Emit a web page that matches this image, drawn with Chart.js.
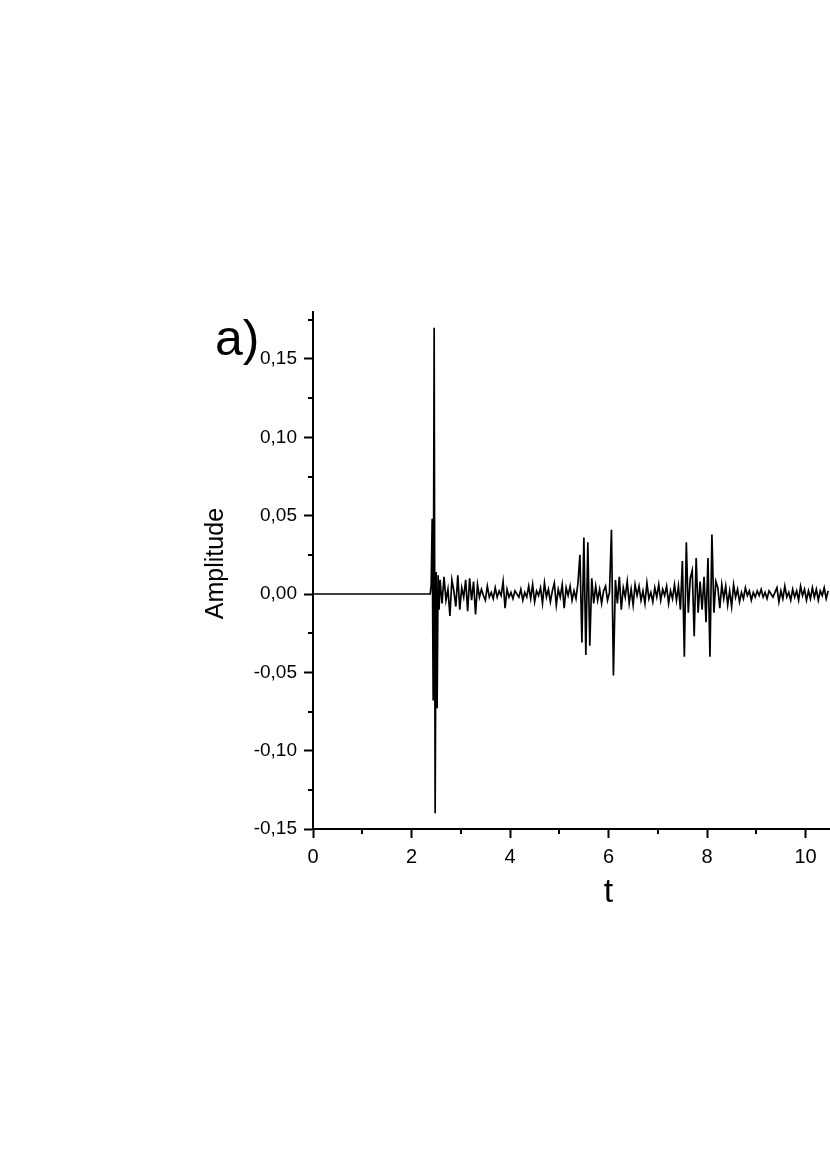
<!DOCTYPE html>
<html>
<head>
<meta charset="utf-8">
<script src="https://cdn.jsdelivr.net/npm/chart.js@4/dist/chart.umd.min.js"></script>
<style>
    html, body { margin: 0; padding: 0; background: #fff; overflow: hidden; }
    #wrap { position: absolute; left: 0; top: 0; width: 940px; height: 1174px; }
    #panel-label {
        position: absolute; left: 215px; top: 313px;
        font-family: 'Liberation Sans', Arial, sans-serif;
        font-size: 50px; line-height: 50px; color: #000;
    }
</style>
</head>
<body>
<div id="wrap"><canvas id="signalChart" width="940" height="1174"></canvas></div>
<div id="panel-label">a)</div>
<script>
/* data */

// quiet part + first arrival (t, amplitude)
const arrivalTimes = [0, 2.38, 2.40, 2.42, 2.44, 2.46, 2.48, 2.50, 2.52, 2.54, 2.56, 2.58];
const arrivalAmps  = [0, 0.000, 0.006, 0.048, -0.068, 0.170, -0.140, 0.014, -0.073, 0.012, -0.010, 0.009];

// coda, sampled every 0.04 from t = 2.62
const codaStart = 2.62;
const codaStep = 0.04;
const codaAmps = [
    -0.006, 0.011, -0.004, 0.003, -0.014, 0.009, 0.002, -0.008, 0.012, -0.010,   // 2.62
    0.004, -0.002, 0.009, -0.011, 0.010, -0.004, 0.008, -0.013, 0.006, -0.002,   // 3.02
    0.003, -0.001, -0.004, 0.005, -0.002, 0.001, -0.003, 0.004, -0.002, 0.002,   // 3.42
    -0.001, 0.008, -0.009, 0.003, -0.002, 0.001, -0.003, 0.002, 0.000, -0.002,   // 3.82
    0.003, -0.004, 0.001, -0.002, 0.005, -0.003, 0.006, -0.005, 0.002, -0.001,   // 4.22
    0.004, -0.006, 0.007, -0.002, 0.003, -0.005, 0.002, 0.007, -0.007, 0.003,    // 4.62
    -0.002, 0.006, -0.009, 0.004, -0.001, 0.005, -0.004, 0.002, -0.003, 0.007,   // 5.02
    0.025, -0.031, 0.036, -0.039, 0.033, -0.033, 0.010, -0.006, 0.005, -0.004,   // 5.42
    0.003, -0.006, 0.002, 0.005, -0.004, 0.001, 0.041, -0.052, 0.009, -0.006,    // 5.82
    0.011, -0.010, 0.004, -0.002, 0.008, -0.006, 0.003, -0.007, 0.006, -0.001,   // 6.22
    0.005, -0.004, 0.002, -0.006, 0.007, -0.003, 0.001, -0.005, 0.004, -0.002,   // 6.62
    0.006, -0.004, 0.003, -0.001, 0.005, -0.006, 0.002, -0.003, 0.006, -0.004,   // 7.02
    0.005, -0.010, 0.021, -0.040, 0.033, -0.012, 0.010, 0.015, -0.027, 0.023,    // 7.42
    -0.012, 0.008, -0.010, 0.011, -0.018, 0.023, -0.040, 0.038, -0.012, 0.008,   // 7.82
    0.004, -0.009, 0.006, -0.003, 0.005, -0.007, 0.002, -0.008, 0.006, -0.002,   // 8.22
    0.003, -0.005, 0.001, -0.003, 0.004, -0.001, 0.002, -0.004, 0.001, -0.002,   // 8.62
    0.002, -0.001, 0.003, -0.002, 0.001, -0.003, 0.002, 0.000, -0.002, 0.001,    // 9.02
    0.004, -0.005, 0.002, -0.003, 0.005, -0.002, 0.001, -0.004, 0.003, -0.002,   // 9.42
    0.002, -0.004, 0.005, -0.001, 0.003, -0.004, 0.002, -0.003, 0.004, -0.002,   // 9.82
    0.003, -0.004, 0.002, -0.001, 0.004, -0.003, 0.002                           // 10.22
];

// axis ticks
const xMajorTicks = [0, 2, 4, 6, 8, 10, 12];
const xMinorTicks = [1, 3, 5, 7, 9, 11];
const yMajorTicks = [-0.15, -0.10, -0.05, 0, 0.05, 0.10, 0.15];
const yMinorTicks = [-0.125, -0.075, -0.025, 0.025, 0.075, 0.125, 0.175];

const FONT = "'Liberation Sans', Arial, sans-serif";

const signalPoints = arrivalTimes.map((t, i) => ({ x: t, y: arrivalAmps[i] }));
codaAmps.forEach((a, i) => signalPoints.push({ x: codaStart + i * codaStep, y: a }));

// short outward ticks between the labelled ones
const minorTicksPlugin = {
    id: 'minorTicks',
    afterDraw(chart) {
        const { ctx, chartArea, scales } = chart;
        ctx.save();
        ctx.strokeStyle = '#000';
        ctx.lineWidth = 2;
        ctx.beginPath();
        xMinorTicks.forEach(v => {
            const px = Math.round(scales.x.getPixelForValue(v));
            ctx.moveTo(px, chartArea.bottom);
            ctx.lineTo(px, chartArea.bottom + 5);
        });
        yMinorTicks.forEach(v => {
            const py = Math.round(scales.y.getPixelForValue(v));
            ctx.moveTo(chartArea.left, py);
            ctx.lineTo(chartArea.left - 5, py);
        });
        ctx.stroke();
        ctx.restore();
    }
};

new Chart(document.getElementById('signalChart'), {
    type: 'line',
    data: {
        datasets: [{
            data: signalPoints,
            borderColor: '#000',
            borderWidth: 1.7,
            pointRadius: 0,
            tension: 0,
            fill: false
        }]
    },
    options: {
        responsive: false,
        animation: false,
        layout: { padding: { left: 195, top: 312, right: 36, bottom: 249 } },
        plugins: { legend: { display: false }, tooltip: { enabled: false } },
        scales: {
            x: {
                type: 'linear',
                min: 0,
                max: 12,
                afterFit: (scale) => { scale.height = 96; },
                afterBuildTicks: (scale) => { scale.ticks = xMajorTicks.map(v => ({ value: v })); },
                border: { display: true, color: '#000', width: 2 },
                grid: { drawOnChartArea: false, drawTicks: true, tickLength: 9, tickWidth: 2, tickColor: '#000' },
                ticks: {
                    padding: 7,
                    color: '#000',
                    font: { family: FONT, size: 20 },
                    maxRotation: 0,
                    autoSkip: false,
                    callback: (v) => String(v)
                },
                title: {
                    display: true,
                    text: 't',
                    color: '#000',
                    font: { family: FONT, size: 34 },
                    padding: { top: 0, bottom: 12 }
                }
            },
            y: {
                min: -0.15,
                max: 0.18,
                afterFit: (scale) => { scale.width = 118; },
                afterBuildTicks: (scale) => { scale.ticks = yMajorTicks.map(v => ({ value: v })); },
                border: { display: true, color: '#000', width: 2 },
                grid: { drawOnChartArea: false, drawTicks: true, tickLength: 9, tickWidth: 2, tickColor: '#000' },
                ticks: {
                    padding: 7,
                    color: '#000',
                    font: { family: FONT, size: 19 },
                    autoSkip: false,
                    callback: (v) => {
                        const val = Math.abs(v) < 1e-9 ? 0 : v;
                        return val.toFixed(2).replace('.', ',');
                    }
                },
                title: {
                    display: true,
                    text: '  Amplitude',
                    color: '#000',
                    font: { family: FONT, size: 25 },
                    padding: { top: 6, bottom: 0 }
                }
            }
        }
    },
    plugins: [minorTicksPlugin]
});
</script>
</body>
</html>
